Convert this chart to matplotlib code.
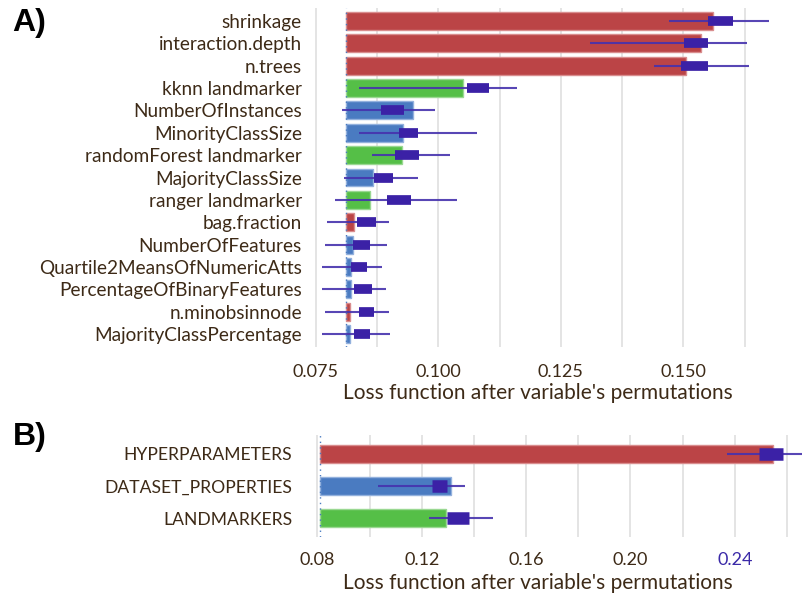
import matplotlib.pyplot as plt
import numpy as np
from matplotlib.ticker import FixedLocator

plt.rcParams['font.family'] = ['Lato', 'DejaVu Sans']

# ---- data, panel A
variables_a = ['shrinkage', 'interaction.depth', 'n.trees', 'kknn landmarker',
               'NumberOfInstances', 'MinorityClassSize', 'randomForest landmarker',
               'MajorityClassSize', 'ranger landmarker', 'bag.fraction',
               'NumberOfFeatures', 'Quartile2MeansOfNumericAtts',
               'PercentageOfBinaryFeatures', 'n.minobsinnode', 'MajorityClassPercentage']
group_a = ['hyper', 'hyper', 'hyper', 'land', 'data', 'data', 'land', 'data', 'land',
           'hyper', 'data', 'data', 'data', 'hyper', 'data']
loss_a = [0.1561, 0.1537, 0.1505, 0.1051, 0.0949, 0.0927, 0.0925, 0.0867, 0.0860,
          0.0828, 0.0825, 0.0821, 0.0821, 0.0820, 0.0820]
q1_a = [0.1551, 0.1501, 0.1496, 0.1059, 0.0883, 0.0920, 0.0911, 0.0868, 0.0895,
        0.0834, 0.0825, 0.0821, 0.0827, 0.0838, 0.0828]
q3_a = [0.1602, 0.1551, 0.1551, 0.1104, 0.0930, 0.0958, 0.0960, 0.0907, 0.0944,
        0.0872, 0.0860, 0.0855, 0.0864, 0.0868, 0.0860]
wlo_a = [0.1470, 0.1309, 0.1440, 0.0838, 0.0804, 0.0838, 0.0865, 0.0807, 0.0788,
         0.0772, 0.0769, 0.0763, 0.0763, 0.0769, 0.0763]
whi_a = [0.1675, 0.1631, 0.1634, 0.1161, 0.0992, 0.1078, 0.1024, 0.0958, 0.1038,
         0.0899, 0.0895, 0.0885, 0.0892, 0.0900, 0.0902]
baseline = 0.0811

# ---- data, panel B
groups_b = ['HYPERPARAMETERS', 'DATASET_PROPERTIES', 'LANDMARKERS']
group_b = ['hyper', 'data', 'land']
loss_b = [0.2545, 0.1311, 0.1292]
q1_b = [0.2494, 0.1238, 0.1298]
q3_b = [0.2586, 0.1297, 0.1380]
wlo_b = [0.2371, 0.1033, 0.1229]
whi_b = [0.2700, 0.1367, 0.1474]

colors = {'hyper': '#bb4446', 'data': '#4a7bc1', 'land': '#55bf47'}
edges = {'hyper': '#d98d8e', 'data': '#93b1dd', 'land': '#9ad892'}
box_color = '#3b21a6'
whisk_color = '#4632ad'
text_color = '#3d2a17'

W, H = 803, 597
fig = plt.figure(figsize=(W / 100, H / 100), dpi=100)


def px_axes(left, top, right, bottom):
    return fig.add_axes([left / W, 1 - bottom / H, (right - left) / W, (bottom - top) / H])


def draw_panel(ax, labels, grp, loss, q1, q3, wlo, whi, bar_h, box_lw, whisk_lw):
    y = np.arange(len(labels))
    for i in range(len(labels)):
        ax.barh(y[i], loss[i] - baseline, left=baseline, height=bar_h,
                color=colors[grp[i]], edgecolor=edges[grp[i]], linewidth=1.0, zorder=2)
        ax.plot([wlo[i], whi[i]], [y[i], y[i]], color=whisk_color, lw=whisk_lw,
                alpha=0.9, solid_capstyle='butt', zorder=3)
        ax.plot([q1[i], q3[i]], [y[i], y[i]], color=box_color, lw=box_lw,
                solid_capstyle='butt', zorder=4)
    ax.axvline(baseline, color='#4a7bc1', lw=1.0, ls=(0, (1, 3)), zorder=5)
    ax.set_yticks(y)
    ax.set_yticklabels(labels)
    for s in ax.spines.values():
        s.set_visible(False)
    ax.tick_params(which='both', length=0, colors=text_color)
    ax.grid(axis='x', which='both', color='#e2e2e2', lw=1.3, zorder=0)
    ax.set_axisbelow(True)
    ax.set_xlabel("Loss function after variable's permutations", fontsize=15,
                  color=text_color)


# ---- panel A
axA = px_axes(315, 8, 795, 347)
draw_panel(axA, variables_a, group_a, loss_a, q1_a, q3_a, wlo_a, whi_a, 0.8, 7, 1.5)
axA.set_xlim(0.0748, 0.1728)
axA.set_ylim(14.58, -0.58)
axA.xaxis.set_major_locator(FixedLocator([0.075, 0.100, 0.125, 0.150]))
axA.xaxis.set_minor_locator(FixedLocator([0.0875, 0.1125, 0.1375, 0.1625]))
axA.set_xticklabels(['0.075', '0.100', '0.125', '0.150'])
axA.tick_params(axis='y', labelsize=13.7, pad=9.5)
axA.tick_params(axis='x', labelsize=13, pad=12)
axA.xaxis.set_label_coords((538 - 315) / 480, -(393 - 347) / 339)
axA.xaxis.label.set_va('center')

# ---- panel B
axB = px_axes(316, 435, 803, 537)
draw_panel(axB, groups_b, group_b, loss_b, q1_b, q3_b, wlo_b, whi_b, 0.56, 9, 1.5)
axB.set_xlim(0.0795, 0.2661)
axB.set_ylim(2.59, -0.59)
axB.xaxis.set_major_locator(FixedLocator([0.08, 0.12, 0.16, 0.20, 0.24]))
axB.xaxis.set_minor_locator(FixedLocator([0.10, 0.14, 0.18, 0.22, 0.26]))
axB.set_xticklabels(['0.08', '0.12', '0.16', '0.20', '0.24'])
axB.tick_params(axis='y', labelsize=12.6, pad=17)
axB.tick_params(axis='x', labelsize=13, pad=11)
axB.get_xticklabels()[-1].set_color('#3b2aa8')
axB.xaxis.set_label_coords((538 - 316) / 487, -(583 - 537) / 102)
axB.xaxis.label.set_va('center')

fig.text(12 / W, 1 - 23 / H, 'A)', fontsize=23, fontweight='bold', va='center',
         family=['Liberation Sans', 'DejaVu Sans'])
fig.text(13 / W, 1 - 437 / H, 'B)', fontsize=23, fontweight='bold', va='center',
         family=['Liberation Sans', 'DejaVu Sans'])

fig.savefig('out.png', dpi=100)
